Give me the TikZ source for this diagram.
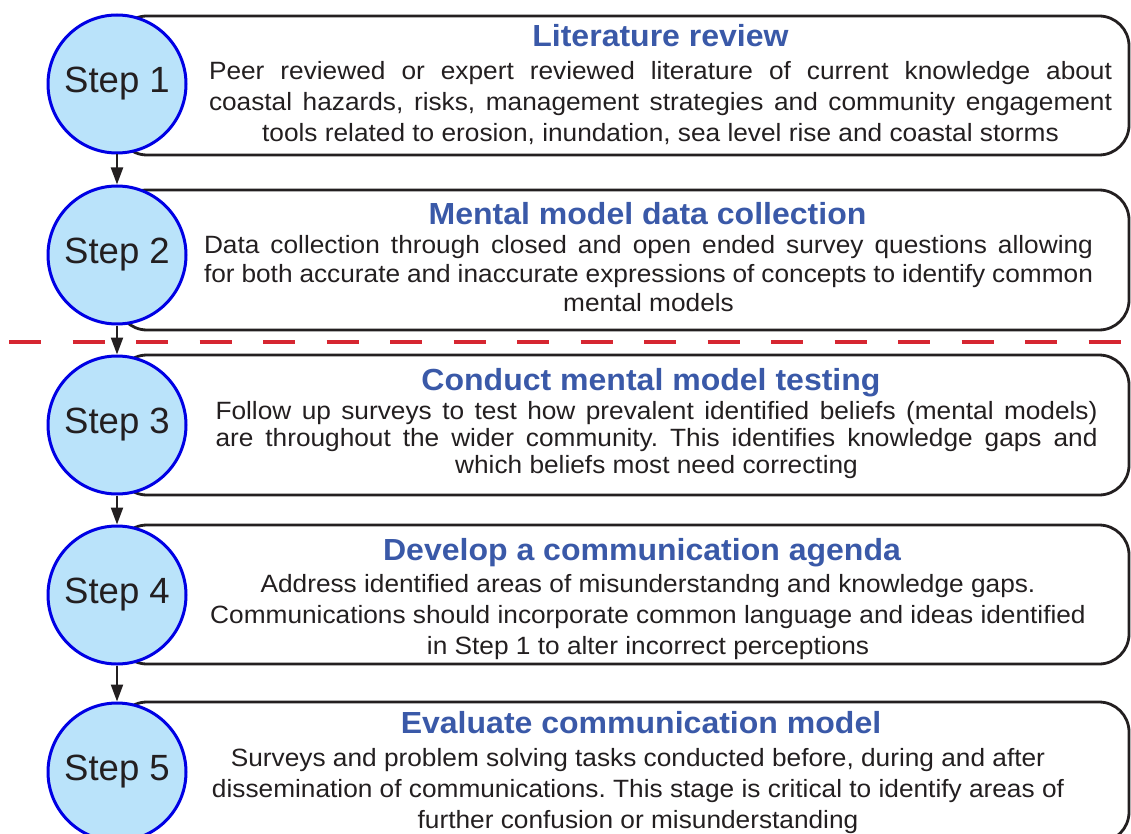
\documentclass[tikz,border=0pt]{standalone}
\usepackage{fontspec}
\setmainfont{Liberation Sans}[FakeStretch=1.05]
\newfontfamily\stepfont{Liberation Sans}
\usetikzlibrary{arrows.meta}
\frenchspacing

\definecolor{titleblue}{RGB}{58,89,168}
\definecolor{circlefill}{RGB}{186,227,250}
\definecolor{circleline}{RGB}{0,0,228}
\definecolor{textgray}{RGB}{35,31,32}
\definecolor{dashred}{RGB}{214,38,49}

% one justified line of a given width
\newcommand{\fullline}[2]{\makebox[#1][s]{#2}}

\tikzset{
  stepcircle/.style={circle, draw=circleline, fill=circlefill, line width=3pt,
    minimum size=138pt, inner sep=0pt, text=textgray, font=\stepfont\fontsize{36.5}{40}\selectfont},
  stepbox/.style={draw=textgray, line width=2.8pt, rounded corners=30pt},
  steptitle/.style={anchor=base, inner sep=0pt, text=titleblue,
    font=\fontsize{30.5}{34}\selectfont\bfseries},
  steptext/.style={anchor=north, inner sep=0pt, align=center, text=textgray,
    font=\fontsize{25}{31.3}\selectfont},
  stepflow/.style={draw=textgray, line width=2.2pt, -{Triangle[length=17pt,width=12pt]}},
  divider/.style={draw=dashred, line width=4pt, dash pattern=on 32pt off 31.5pt},
}

\begin{document}
\begin{tikzpicture}[x=1pt, y=-1pt]
\useasboundingbox (0,0) rectangle (1131,834);

% Boxes behind the circles
\draw[stepbox] (117,16) rectangle (1129,155);
\draw[stepbox] (117,190) rectangle (1129,330);
\draw[stepbox] (117,355) rectangle (1129,495);
\draw[stepbox] (117,525) rectangle (1129,664);
\draw[stepbox] (117,702) rectangle (1129,842);

% Divider between the two phases
\draw[divider] (9,342) -- (1131,342);

% Step circles
\node[stepcircle] (s1) at (117,84) {Step 1};
\node[stepcircle] (s2) at (117,255) {Step 2};
\node[stepcircle] (s3) at (117,425) {Step 3};
\node[stepcircle] (s4) at (117,595) {Step 4};
\node[stepcircle] (s5) at (117,772) {Step 5};

\draw[stepflow] (s1) -- (s2);
\draw[stepflow] (s2) -- (s3);
\draw[stepflow] (s3) -- (s4);
\draw[stepflow] (s4) -- (s5);

% Step 1
\node[steptitle] (t1) at (660.5,47) {Literature review};
\node[steptext] (b1) at (660.5,61) {\fullline{903pt}{Peer reviewed or expert reviewed literature of current knowledge about}\\
  \fullline{903pt}{coastal hazards, risks, management strategies and community engagement}\\
  tools related to erosion, inundation, sea level rise and coastal storms};

% Step 2
\node[steptitle] (t2) at (647.5,225) {Mental model data collection};
\node[steptext, font=\fontsize{25}{29}\selectfont] (b2) at (648.5,235) {\fullline{889pt}{Data collection through closed and open ended survey questions allowing}\\
  \fullline{889pt}{for both accurate and inaccurate expressions of concepts to identify common}\\
  mental models};

% Step 3
\node[steptitle] (t3) at (651,390) {Conduct mental model testing};
\node[steptext, font=\fontsize{25}{27}\selectfont] (b3) at (656.5,401) {\fullline{882pt}{Follow up surveys to test how prevalent identified beliefs (mental models)}\\
  \fullline{882pt}{are throughout the wider community. This identifies knowledge gaps and}\\
  which beliefs most need correcting};

% Step 4
\node[steptitle] (t4) at (642,560) {Develop a communication agenda};
\node[steptext] (b4) at (648,574) {Address identified areas of misunderstandng and knowledge gaps.\\
  Communications should incorporate common language and ideas identified\\
  in Step 1 to alter incorrect perceptions};

% Step 5
\node[steptitle] (t5) at (641,733) {Evaluate communication model};
\node[steptext] (b5) at (638,748) {Surveys and problem solving tasks conducted before, during and after\\
  dissemination of communications. This stage is critical to identify areas of\\
  further confusion or misunderstanding};
\end{tikzpicture}
\end{document}
